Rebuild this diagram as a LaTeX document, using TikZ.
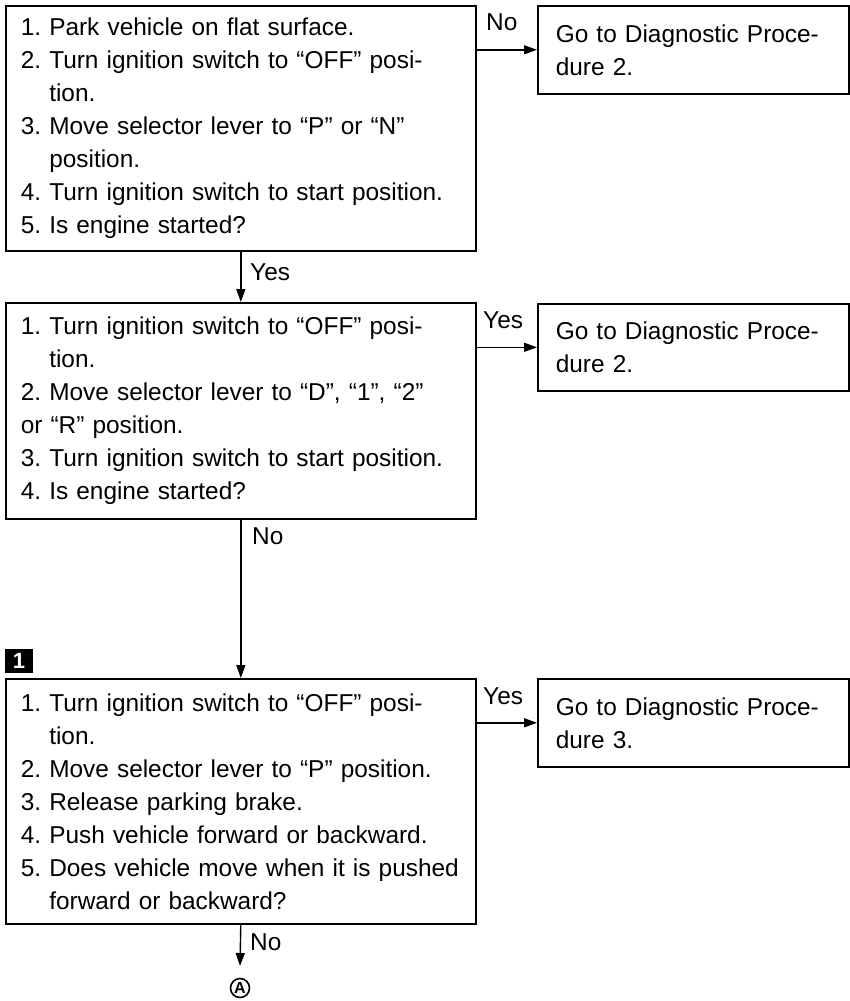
\documentclass[tikz,border=0pt]{standalone}
\usepackage{fontspec}
\setmainfont{Liberation Sans}
\usetikzlibrary{arrows.meta}
\tikzstyle{proc} = [draw, line width=1.6pt, anchor=north west, align=left, inner ysep=0pt]
\frenchspacing

\begin{document}
\begin{tikzpicture}[x=1pt, y=-1pt,
        every node/.style={font=\fontsize{24.4}{33}\selectfont},
        flow/.style={line width=1.4pt, -{Triangle[length=13pt,width=9pt]}},
        lbl/.style={inner sep=0pt, anchor=west}]

        \useasboundingbox (0,0) rectangle (850,1001);

        % check boxes
        \node[proc, text width=440pt, inner xsep=15pt, minimum height=245pt] (P1) at (5,5) {
          1. Park vehicle on flat surface.\\
          2. Turn ignition switch to ``OFF'' posi-\\
          \hphantom{2.\ }tion.\\
          3. Move selector lever to ``P'' or ``N''\\
          \hphantom{3.\ }position.\\
          4. Turn ignition switch to start position.\\
          5. Is engine started?};
        \node[proc, text width=440pt, inner xsep=15pt, minimum height=216pt] (P2) at (5,302) {
          1. Turn ignition switch to ``OFF'' posi-\\
          \hphantom{1.\ }tion.\\
          2. Move selector lever to ``D'', ``1'', ``2''\\
          or ``R'' position.\\
          3. Turn ignition switch to start position.\\
          4. Is engine started?};
        \node[proc, text width=440pt, inner xsep=15pt, minimum height=245pt] (P3) at (5,678) {
          1. Turn ignition switch to ``OFF'' posi-\\
          \hphantom{1.\ }tion.\\
          2. Move selector lever to ``P'' position.\\
          3. Release parking brake.\\
          4. Push vehicle forward or backward.\\
          5. Does vehicle move when it is pushed\\
          \hphantom{5.\ }forward or backward?};

        % go-to boxes
        \node[proc, text width=275pt, inner xsep=18pt, minimum height=88pt] (G1) at (537,5)
          {Go to Diagnostic Proce-\\dure 2.};
        \node[proc, text width=275pt, inner xsep=18pt, minimum height=87pt] (G2) at (537,303)
          {Go to Diagnostic Proce-\\dure 2.};
        \node[proc, text width=275pt, inner xsep=18pt, minimum height=88pt] (G3) at (537,678)
          {Go to Diagnostic Proce-\\dure 3.};

        % marker and connector
        \node[fill=black, text=white, font=\fontsize{22}{22}\bfseries, minimum width=28pt,
          minimum height=24pt, inner sep=0pt] (M1) at (19,661) {1};
        \node[draw, circle, line width=1.6pt, minimum size=19pt, inner sep=0pt,
          font=\fontsize{16}{16}\bfseries] (A) at (240,988) {A};
        \coordinate (Aend) at (240,966);

        % edges
        \draw[flow] (G1.west -| P1.east) -- (G1.west);
        \draw[flow] (P1.south) -- (P2.north);
        \draw[flow] (G2.west -| P2.east) -- (G2.west);
        \draw[flow] (P2.south) -- (P3.north);
        \draw[flow] (G3.west -| P3.east) -- (G3.west);
        \draw[flow] (P3.south) -- (Aend);

        % answers
        \node[lbl] (n1) at (486,22) {No};
        \node[lbl] (y1) at (250,272) {Yes};
        \node[lbl] (y2) at (483,320) {Yes};
        \node[lbl] (n2) at (252,536) {No};
        \node[lbl] (y3) at (483,696) {Yes};
        \node[lbl] (n3) at (250,942) {No};

      \end{tikzpicture}
\end{document}
